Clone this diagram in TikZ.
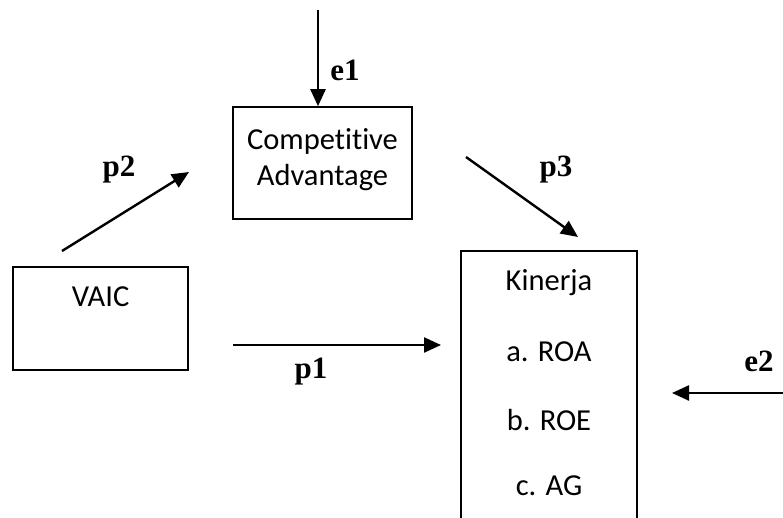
\documentclass[tikz,border=0pt]{standalone}
\usepackage{fontspec}
\setmainfont[Ligatures=NoCommon]{Carlito}
\newfontfamily\labfont{Liberation Serif}
\usetikzlibrary{arrows.meta}
\begin{document}
\begin{tikzpicture}[x=1pt,y=-1pt,
  box/.style={draw,line width=1.6pt,inner sep=0pt},
  txt/.style={font=\fontsize{30.5}{36}\selectfont,inner sep=0pt,anchor=center},
  lab/.style={font=\labfont\bfseries\fontsize{31}{34}\selectfont,inner sep=0pt,anchor=center},
  arr/.style={line width=2.4pt,-{Triangle[length=17pt,width=15pt]}}]
\useasboundingbox[fill=white] (0,0) rectangle (783,518);
\clip (0,0) rectangle (783,518);
% boxes
\node[box,minimum width=179pt,minimum height=112pt] (ca) at (322.5,163) {};
\node[txt,align=center] (catxt) at (322.5,160) {Competitive\\Advantage};
\node[box,minimum width=175pt,minimum height=103pt] (vaic) at (100.5,318.5) {};
\node[txt] (vaictxt) at (100.5,297) {VAIC};
\node[box,minimum width=176pt,minimum height=300pt] (kin) at (549,401) {};
\node[txt] (k0) at (549,283) {Kinerja};
\node[txt] (k1) at (549,352) {a. ROA};
\node[txt] (k2) at (549,420) {b. ROE};
\node[txt] (k3) at (549,486) {c. AG};
% arrow endpoints
\coordinate (e1s) at (318,10);
\coordinate (p2s) at (62,251);
\coordinate (p2e) at (189,172);
\coordinate (p3s) at (466,157);
\coordinate (p3e) at (578,237);
\coordinate (p1s) at (233,345);
\coordinate (p1e) at (441,345);
\coordinate (e2s) at (783,393);
\coordinate (e2e) at (672,393);
% arrows
\draw[arr] (e1s) -- (e1s |- ca.north);
\draw[arr] (p2s) -- (p2e);
\draw[arr] (p3s) -- (p3e);
\draw[arr] (p1s) -- (p1e);
\draw[arr] (e2s) -- (e2e);
% labels
\node[lab] (le1) at (345,70) {e1};
\node[lab] (lp2) at (119,170) {p2};
\node[lab] (lp3) at (556,170) {p3};
\node[lab] (lp1) at (311,372) {p1};
\node[lab] (le2) at (759,361) {e2};
\end{tikzpicture}
\end{document}
